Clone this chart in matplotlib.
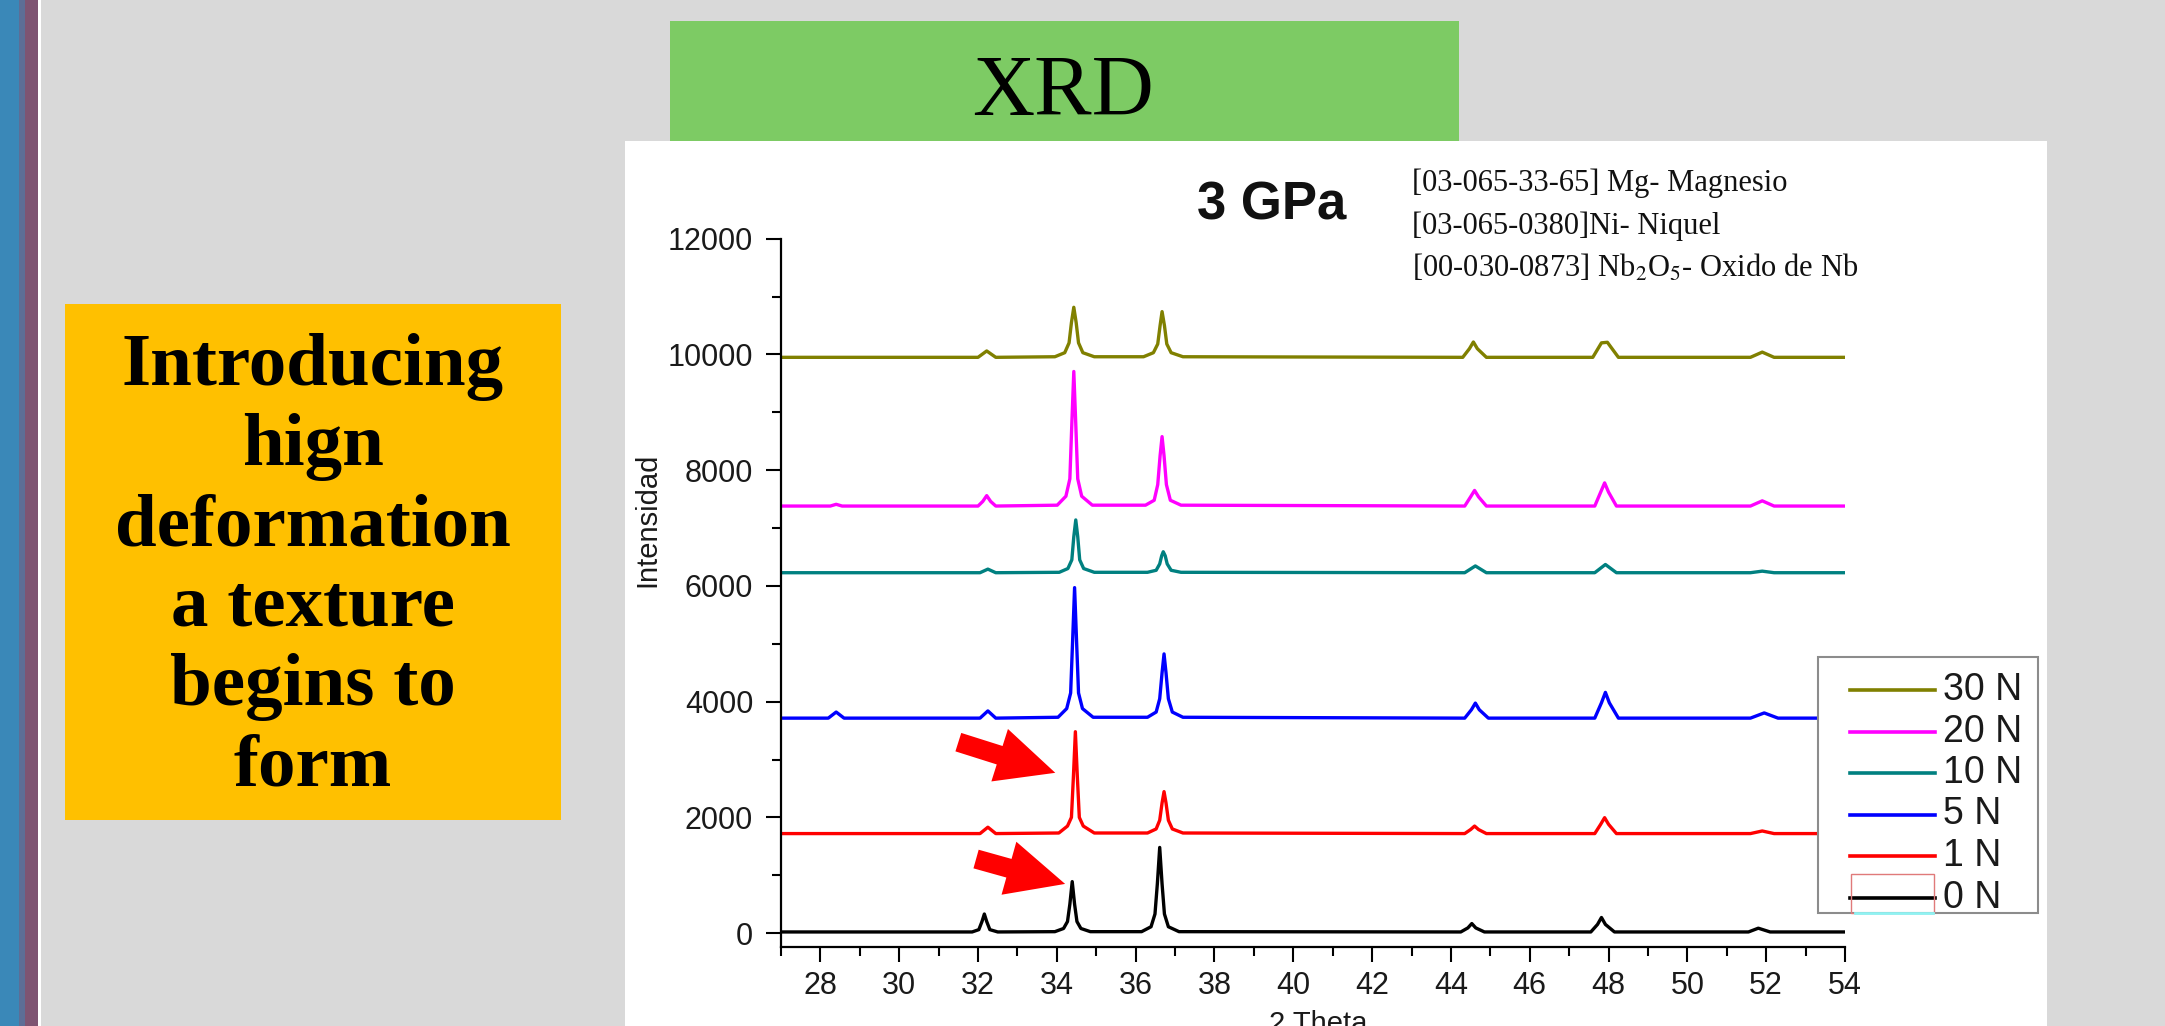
import matplotlib
matplotlib.use("Agg")
import matplotlib.pyplot as plt
from matplotlib.patches import Rectangle
from matplotlib.lines import Line2D
from matplotlib.ticker import MultipleLocator

plt.rcParams['font.family'] = ['Liberation Sans', 'DejaVu Sans']
plt.rcParams['mathtext.fontset'] = 'stix'

W, H = 2165, 1026

# --- XRD patterns (2 theta, intensity) ---
labels = ["0 N", "1 N", "5 N", "10 N", "20 N", "30 N"]
colors = ["#000000", "#ff0000", "#0000ff", "#008080", "#ff00ff", "#808000"]

theta_0n = [27, 31.85, 32.02, 32.1, 32.16, 32.22, 32.3, 32.5,
            33.95, 34.17, 34.27, 34.33, 34.39, 34.45, 34.51, 34.61, 34.85,
            36.15, 36.39, 36.49, 36.55, 36.61, 36.67, 36.73, 36.83, 37.1,
            44.25, 44.43, 44.53, 44.63, 44.85,
            47.55, 47.72, 47.82, 47.92, 48.15,
            51.55, 51.8, 52.1, 54]
int_0n = [20, 20, 60, 200, 330, 200, 60, 20,
          25, 80, 200, 500, 890, 500, 200, 80, 25,
          25, 110, 330, 850, 1480, 850, 330, 110, 25,
          20, 90, 165, 90, 20,
          20, 150, 270, 150, 20,
          20, 85, 20, 20]

theta_1n = [27, 32.05, 32.25, 32.45,
            34.05, 34.27, 34.37, 34.42, 34.47, 34.52, 34.57, 34.67, 34.95,
            36.3, 36.52, 36.61, 36.67, 36.72, 36.77, 36.83, 36.93, 37.2,
            44.35, 44.5, 44.6, 44.7, 44.9,
            47.65, 47.8, 47.9, 48.0, 48.2,
            51.6, 51.9, 52.2, 54]
int_1n = [1720, 1720, 1830, 1720,
          1730, 1850, 2000, 2700, 3480, 2700, 2000, 1850, 1730,
          1730, 1800, 1950, 2250, 2445, 2250, 1950, 1800, 1730,
          1720, 1790, 1850, 1790, 1720,
          1720, 1880, 1995, 1880, 1720,
          1720, 1765, 1720, 1720]

theta_5n = [27, 28.2, 28.4, 28.6, 32.05, 32.25, 32.45,
            34.03, 34.25, 34.35, 34.4, 34.45, 34.5, 34.55, 34.65, 34.92,
            36.3, 36.52, 36.61, 36.67, 36.72, 36.77, 36.83, 36.93, 37.2,
            44.35, 44.52, 44.62, 44.72, 44.95,
            47.65, 47.82, 47.92, 48.02, 48.25,
            51.6, 51.95, 52.3, 54]
int_5n = [3715, 3715, 3820, 3715, 3715, 3840, 3715,
          3730, 3880, 4150, 5050, 5970, 5050, 4150, 3880, 3730,
          3730, 3820, 4050, 4500, 4825, 4500, 4050, 3820, 3730,
          3715, 3860, 3975, 3860, 3715,
          3715, 3980, 4160, 3980, 3715,
          3715, 3805, 3715, 3715]

theta_10n = [27, 32.05, 32.25, 32.45,
             34.06, 34.28, 34.38, 34.43, 34.48, 34.53, 34.58, 34.68, 34.95,
             36.3, 36.52, 36.61, 36.66, 36.7, 36.75, 36.8, 36.9, 37.15,
             44.35, 44.62, 44.9, 47.65, 47.92, 48.2,
             51.6, 51.9, 52.2, 54]
int_10n = [6228, 6228, 6290, 6228,
           6235, 6300, 6450, 6850, 7140, 6850, 6450, 6300, 6235,
           6235, 6270, 6380, 6520, 6590, 6520, 6380, 6270, 6235,
           6228, 6345, 6228, 6228, 6370, 6228,
           6228, 6255, 6228, 6228]

theta_20n = [27, 28.25, 28.4, 28.55, 32.0, 32.12, 32.22, 32.32, 32.45,
             34.01, 34.23, 34.33, 34.38, 34.43, 34.48, 34.53, 34.63, 34.9,
             36.25, 36.47, 36.56, 36.62, 36.67, 36.72, 36.78, 36.88, 37.15,
             44.35, 44.5, 44.6, 44.7, 44.9,
             47.65, 47.8, 47.9, 48.0, 48.2,
             51.6, 51.9, 52.2, 54]
int_20n = [7380, 7380, 7410, 7380, 7380, 7460, 7560, 7460, 7380,
           7395, 7550, 7850, 8800, 9705, 8800, 7850, 7550, 7395,
           7395, 7480, 7750, 8250, 8580, 8250, 7750, 7480, 7395,
           7380, 7540, 7650, 7540, 7380,
           7380, 7620, 7780, 7620, 7380,
           7380, 7470, 7380, 7380]

theta_30n = [27, 32.0, 32.22, 32.45,
             33.95, 34.2, 34.31, 34.37, 34.43, 34.49, 34.55, 34.66, 34.95,
             36.2, 36.45, 36.56, 36.62, 36.67, 36.73, 36.79, 36.9, 37.2,
             44.3, 44.47, 44.57, 44.67, 44.9,
             47.6, 47.82, 47.97, 48.25,
             51.6, 51.9, 52.2, 54]
int_30n = [9950, 9950, 10060, 9950,
           9960, 10030, 10200, 10550, 10815, 10550, 10200, 10030, 9960,
           9960, 10030, 10180, 10500, 10740, 10500, 10180, 10030, 9960,
           9950, 10100, 10215, 10100, 9950,
           9950, 10200, 10210, 9950,
           9950, 10040, 9950, 9950]

thetas = [theta_0n, theta_1n, theta_5n, theta_10n, theta_20n, theta_30n]
intens = [int_0n, int_1n, int_5n, int_10n, int_20n, int_30n]

x_ticks = [28, 30, 32, 34, 36, 38, 40, 42, 44, 46, 48, 50, 52, 54]
y_ticks = [0, 2000, 4000, 6000, 8000, 10000, 12000]

# red arrows pointing at the 34.4 deg peak (tail, tip)
arrow_tails = [(31.5, 3300), (31.95, 1280)]
arrow_tips = [(33.96, 2770), (34.21, 850)]

side_text = ["Introducing", "hign", "deformation", "a texture", "begins to", "form"]
refs = ["[03-065-33-65] Mg- Magnesio",
        "[03-065-0380]Ni- Niquel",
        "[00-030-0873] Nb$_2$O$_5$- Oxido de Nb"]


def fx(x):
    return x / W


def fy(y):
    return 1 - y / H


fig = plt.figure(figsize=(W / 100, H / 100), dpi=100)
fig.patch.set_facecolor('#d9d9d9')


def box(x0, y0, x1, y1, **kw):
    r = Rectangle((fx(x0), fy(y1)), (x1 - x0) / W, (y1 - y0) / H,
                  transform=fig.transFigure, **kw)
    fig.add_artist(r)
    return r


# slide decorations
box(0, 0, 19, H, facecolor='#3a88b8', edgecolor='none', zorder=-5)
box(19, 0, 25, H, facecolor='#5d6e96', edgecolor='none', zorder=-5)
box(25, 0, 38, H, facecolor='#7e5472', edgecolor='none', zorder=-5)
box(38, 0, 41, H, facecolor='white', edgecolor='none', zorder=-5)
box(670, 21, 1459, 141, facecolor='#7dcb64', edgecolor='none', zorder=-5)
box(625, 141, 2047, H, facecolor='white', edgecolor='none', zorder=-4)
box(65, 304, 561, 820, facecolor='#ffc000', edgecolor='none', zorder=-5)

fig.text(fx(1063), fy(115), "XRD", ha='center', va='baseline', fontsize=62,
         family='Liberation Serif', color='black')

for i, line in enumerate(side_text):
    fig.text(fx(313), fy(385 + 80 * i), line, ha='center', va='baseline', fontsize=54,
             family='Liberation Serif', fontweight='bold', color='black')

# chart
ax = fig.add_axes([781 / W, 1 - 947 / H, (1845 - 781) / W, (947 - 238.7) / H])
ax.set_facecolor('none')

for th, yv, c in zip(thetas, intens, colors):
    ax.plot(th, yv, color=c, lw=2.4, solid_joinstyle='round')

for t0, t1 in zip(arrow_tails, arrow_tips):
    ax.annotate('', xy=t1, xytext=t0,
                arrowprops=dict(arrowstyle='simple,head_length=1.75,head_width=1.65,tail_width=0.58',
                                mutation_scale=24, color='#ff0000', lw=0,
                                shrinkA=0, shrinkB=0), zorder=6)

ax.set_xlim(27, 54)
ax.set_ylim(-240, 12000)
ax.set_xticks(x_ticks)
ax.set_yticks(y_ticks)
ax.xaxis.set_minor_locator(MultipleLocator(1))
ax.yaxis.set_minor_locator(MultipleLocator(1000))
for s in ['top', 'right']:
    ax.spines[s].set_visible(False)
for s in ['left', 'bottom']:
    ax.spines[s].set_linewidth(1.6)
ax.tick_params(which='major', direction='out', length=11, width=1.5, labelsize=22,
               labelcolor='#1a1a1a')
ax.tick_params(which='minor', direction='out', length=6.5, width=1.5)
ax.tick_params(axis='y', which='major', pad=9)
ax.tick_params(axis='x', which='major', pad=6)

ax.set_ylabel("Intensidad", fontsize=21, color='#1a1a1a')
ax.yaxis.set_label_coords(-0.112, 0.603)
ax.set_xlabel("2 Theta", fontsize=21, color='#1a1a1a')
ax.xaxis.set_label_coords(0.505, -0.089)

fig.text(fx(1272), fy(219), "3 GPa", ha='center', va='baseline', fontsize=38,
         fontweight='bold', color='#111111')

for i, r in enumerate(refs):
    fig.text(fx(1412), fy(191 + 43 * i), r, ha='left', va='baseline', fontsize=22,
             family='Liberation Serif', color='#111111')

# legend box
box(1818, 657, 2038, 913, facecolor='white', edgecolor='#8c8c8c', lw=1.5, zorder=5)
for i, (lab, c) in enumerate(zip(labels[::-1], colors[::-1])):
    yy = 690 + 41.5 * i
    fig.add_artist(Line2D([fx(1850), fx(1935)], [fy(yy), fy(yy)], color=c, lw=2.6,
                          transform=fig.transFigure, zorder=6))
    fig.text(fx(1943), fy(yy), lab, ha='left', va='center', fontsize=27,
             color='#1a1a1a', zorder=6)
box(1851, 874, 1934, 913, facecolor='none', edgecolor='#e07a7a', lw=1, zorder=7)
fig.add_artist(Line2D([fx(1855), fx(1933)], [fy(913), fy(913)], color='#8ff3f3', lw=2,
                      transform=fig.transFigure, zorder=8))

fig.savefig('out.png', dpi=100)
